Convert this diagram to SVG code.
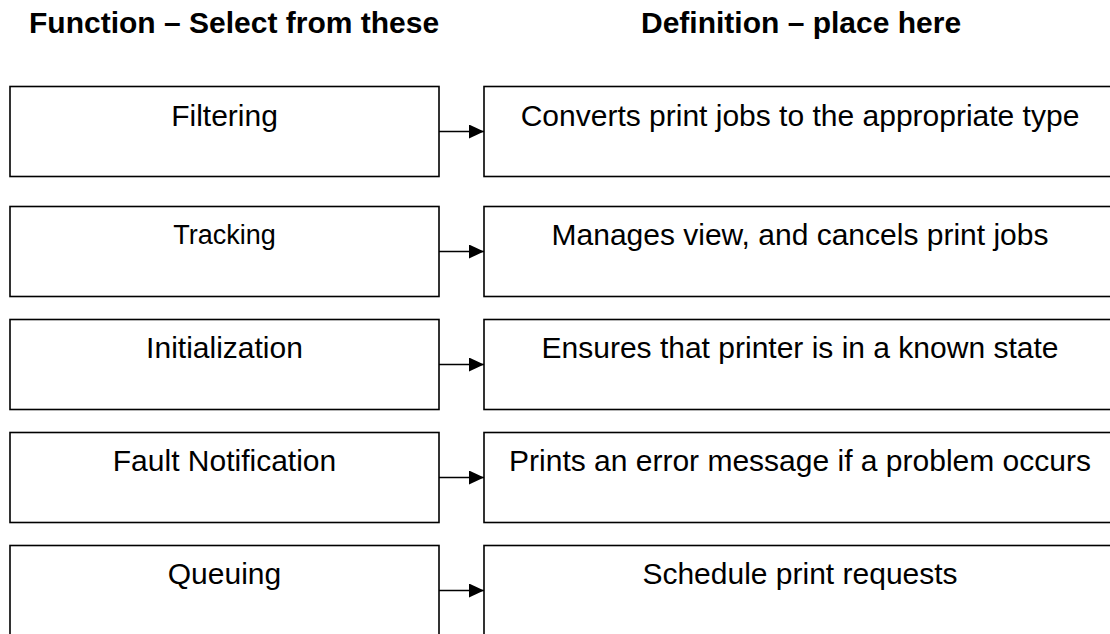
<svg xmlns="http://www.w3.org/2000/svg" width="1110" height="634" viewBox="0 0 1110 634">
<style>
.bg{fill:#ffffff}
.box{fill:#ffffff;stroke:#000000;stroke-width:1.6}
.hdr{font-family:"Liberation Sans",Arial,sans-serif;font-weight:bold;font-size:30px;fill:#000000}
.lbl{font-family:"Liberation Sans",Arial,sans-serif;font-size:30px;fill:#000000;text-anchor:middle}
.con{stroke:#000000;stroke-width:1.4;fill:none;marker-end:url(#arr)}
</style>
<defs>
<marker id="arr" markerWidth="15" markerHeight="14" refX="15" refY="7" orient="auto" markerUnits="userSpaceOnUse">
<path d="M0,0 L15,7 L0,14 Z" fill="#000000"/>
</marker>
</defs>
<rect class="bg" x="0" y="0" width="1110" height="634"/>
<text class="hdr" x="29" y="32.5">Function – Select from these</text>
<text class="hdr" x="641" y="32.5">Definition – place here</text>
<g id="node-filtering">
<rect class="box" x="10" y="86.5" width="429" height="90"/>
<text class="lbl" x="224.5" y="125.5">Filtering</text>
</g>
<g id="node-tracking">
<rect class="box" x="10" y="206.5" width="429" height="90"/>
<text class="lbl" x="224.5" y="243.5" style="font-size:27px">Tracking</text>
</g>
<g id="node-initialization">
<rect class="box" x="10" y="319.5" width="429" height="90"/>
<text class="lbl" x="224.5" y="357.5">Initialization</text>
</g>
<g id="node-fault">
<rect class="box" x="10" y="432.5" width="429" height="90"/>
<text class="lbl" x="224.5" y="470.5">Fault Notification</text>
</g>
<g id="node-queuing">
<rect class="box" x="10" y="545.5" width="429" height="100"/>
<text class="lbl" x="224.5" y="583.5">Queuing</text>
</g>
<g id="node-def1">
<rect class="box" x="484" y="86.5" width="632" height="90"/>
<text class="lbl" x="800" y="125.5">Converts print jobs to the appropriate type</text>
</g>
<g id="node-def2">
<rect class="box" x="484" y="206.5" width="632" height="90"/>
<text class="lbl" x="800" y="245">Manages view, and cancels print jobs</text>
</g>
<g id="node-def3">
<rect class="box" x="484" y="319.5" width="632" height="90"/>
<text class="lbl" x="800" y="357.5">Ensures that printer is in a known state</text>
</g>
<g id="node-def4">
<rect class="box" x="484" y="432.5" width="632" height="90"/>
<text class="lbl" x="800" y="470.5">Prints an error message if a problem occurs</text>
</g>
<g id="node-def5">
<rect class="box" x="484" y="545.5" width="632" height="100"/>
<text class="lbl" x="800" y="583.5">Schedule print requests</text>
</g>
<g id="connectors">
<line class="con" x1="439" y1="131.5" x2="484" y2="131.5"/>
<line class="con" x1="439" y1="251.5" x2="484" y2="251.5"/>
<line class="con" x1="439" y1="364.5" x2="484" y2="364.5"/>
<line class="con" x1="439" y1="477.5" x2="484" y2="477.5"/>
<line class="con" x1="439" y1="590.5" x2="484" y2="590.5"/>
</g>
</svg>
